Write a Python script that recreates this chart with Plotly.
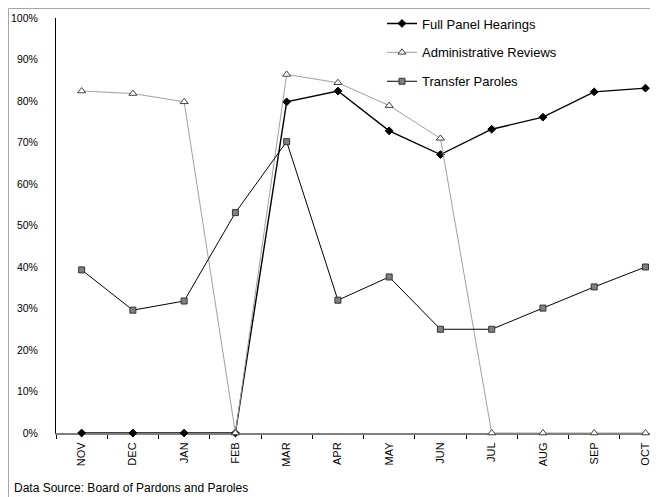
import plotly.graph_objects as go

months = ["NOV", "DEC", "JAN", "FEB", "MAR", "APR", "MAY", "JUN", "JUL", "AUG", "SEP", "OCT"]
full_panel = [0, 0, 0, 0, 79.8, 82.4, 72.8, 67.1, 73.2, 76.1, 82.2, 83.1]
admin_reviews = [82.4, 81.8, 79.8, 0, 86.4, 84.4, 78.9, 71.0, 0, 0, 0, 0]
transfer_paroles = [39.3, 29.6, 31.8, 53.1, 70.2, 32.0, 37.6, 25.0, 25.0, 30.1, 35.2, 40.0]
y_ticks = list(range(0, 101, 10))
y_labels = [f"{v}%" for v in y_ticks]

# figure is placed at page offset (8, 8) by the default body margin;
# the chart extends past the right edge of the window, as in the reference
W, H = 700, 489
L, R, T, B = 48, 0, 10, 64
pw = W - L - R
ph = H - T - B

def px_x(x):
    return (x - L) / pw

def px_y(y):
    return (H - B - y) / ph

FONT = "Liberation Sans, Arial, sans-serif"

fig = go.Figure()
fig.add_trace(go.Scatter(
    x=months, y=full_panel, name="Full Panel Hearings", mode="lines+markers",
    line=dict(color="black", width=1.4),
    marker=dict(symbol="diamond", size=6, color="black", line=dict(color="black", width=1)),
    cliponaxis=False, legendgroup="a"))
fig.add_trace(go.Scatter(
    x=months, y=admin_reviews, name="Administrative Reviews", mode="lines+markers",
    line=dict(color="#a0a0a0", width=1),
    marker=dict(symbol="triangle-up", size=7, color="white", line=dict(color="#404040", width=1)),
    cliponaxis=False, legendgroup="b"))
fig.add_trace(go.Scatter(
    x=months, y=transfer_paroles, name="Transfer Paroles", mode="lines+markers",
    line=dict(color="black", width=1),
    marker=dict(symbol="square", size=6, color="#808080", line=dict(color="#333333", width=1)),
    cliponaxis=False, legendgroup="c"))

fig.update_layout(
    width=W, height=H,
    margin=dict(l=L, r=R, t=T, b=B, pad=0),
    paper_bgcolor="white", plot_bgcolor="white",
    font=dict(family=FONT, color="black", size=12),
    showlegend=True,
    legend=dict(x=px_x(374), y=px_y(0.5), xanchor="left", yanchor="top",
                bgcolor="rgba(0,0,0,0)", borderwidth=0,
                font=dict(family=FONT, size=13, color="black"),
                traceorder="grouped", tracegroupgap=9),
    xaxis=dict(type="category", range=[-0.5, 12.22], showgrid=False, zeroline=False,
               showline=True, linecolor="#808080", linewidth=2,
               ticks="outside", ticklen=4, tickcolor="black", tickwidth=1,
               tickson="boundaries", tickangle=-90, ticklabelstandoff=3,
               tickfont=dict(family=FONT, size=11, color="black"),
               layer="below traces"),
    yaxis=dict(range=[0, 100], showgrid=False, zeroline=False,
               showline=True, linecolor="black", linewidth=1,
               tickvals=y_ticks, ticktext=y_labels,
               ticks="outside", ticklen=15, tickcolor="rgba(0,0,0,0)",
               tickfont=dict(family=FONT, size=10.5, color="black"),
               layer="below traces"),
    shapes=[dict(type="rect", xref="paper", yref="paper",
                 x0=px_x(0.5), x1=1.3, y0=-0.4, y1=px_y(0.5),
                 line=dict(color="#a6a6a6", width=1), fillcolor="rgba(0,0,0,0)",
                 layer="below")],
    annotations=[dict(text="Data Source: Board of Pardons and Paroles",
                      xref="paper", yref="paper", x=px_x(4), y=px_y(480),
                      xanchor="left", yanchor="middle", showarrow=False,
                      font=dict(family=FONT, size=12, color="black"))],
)

fig.write_html("out.html")
